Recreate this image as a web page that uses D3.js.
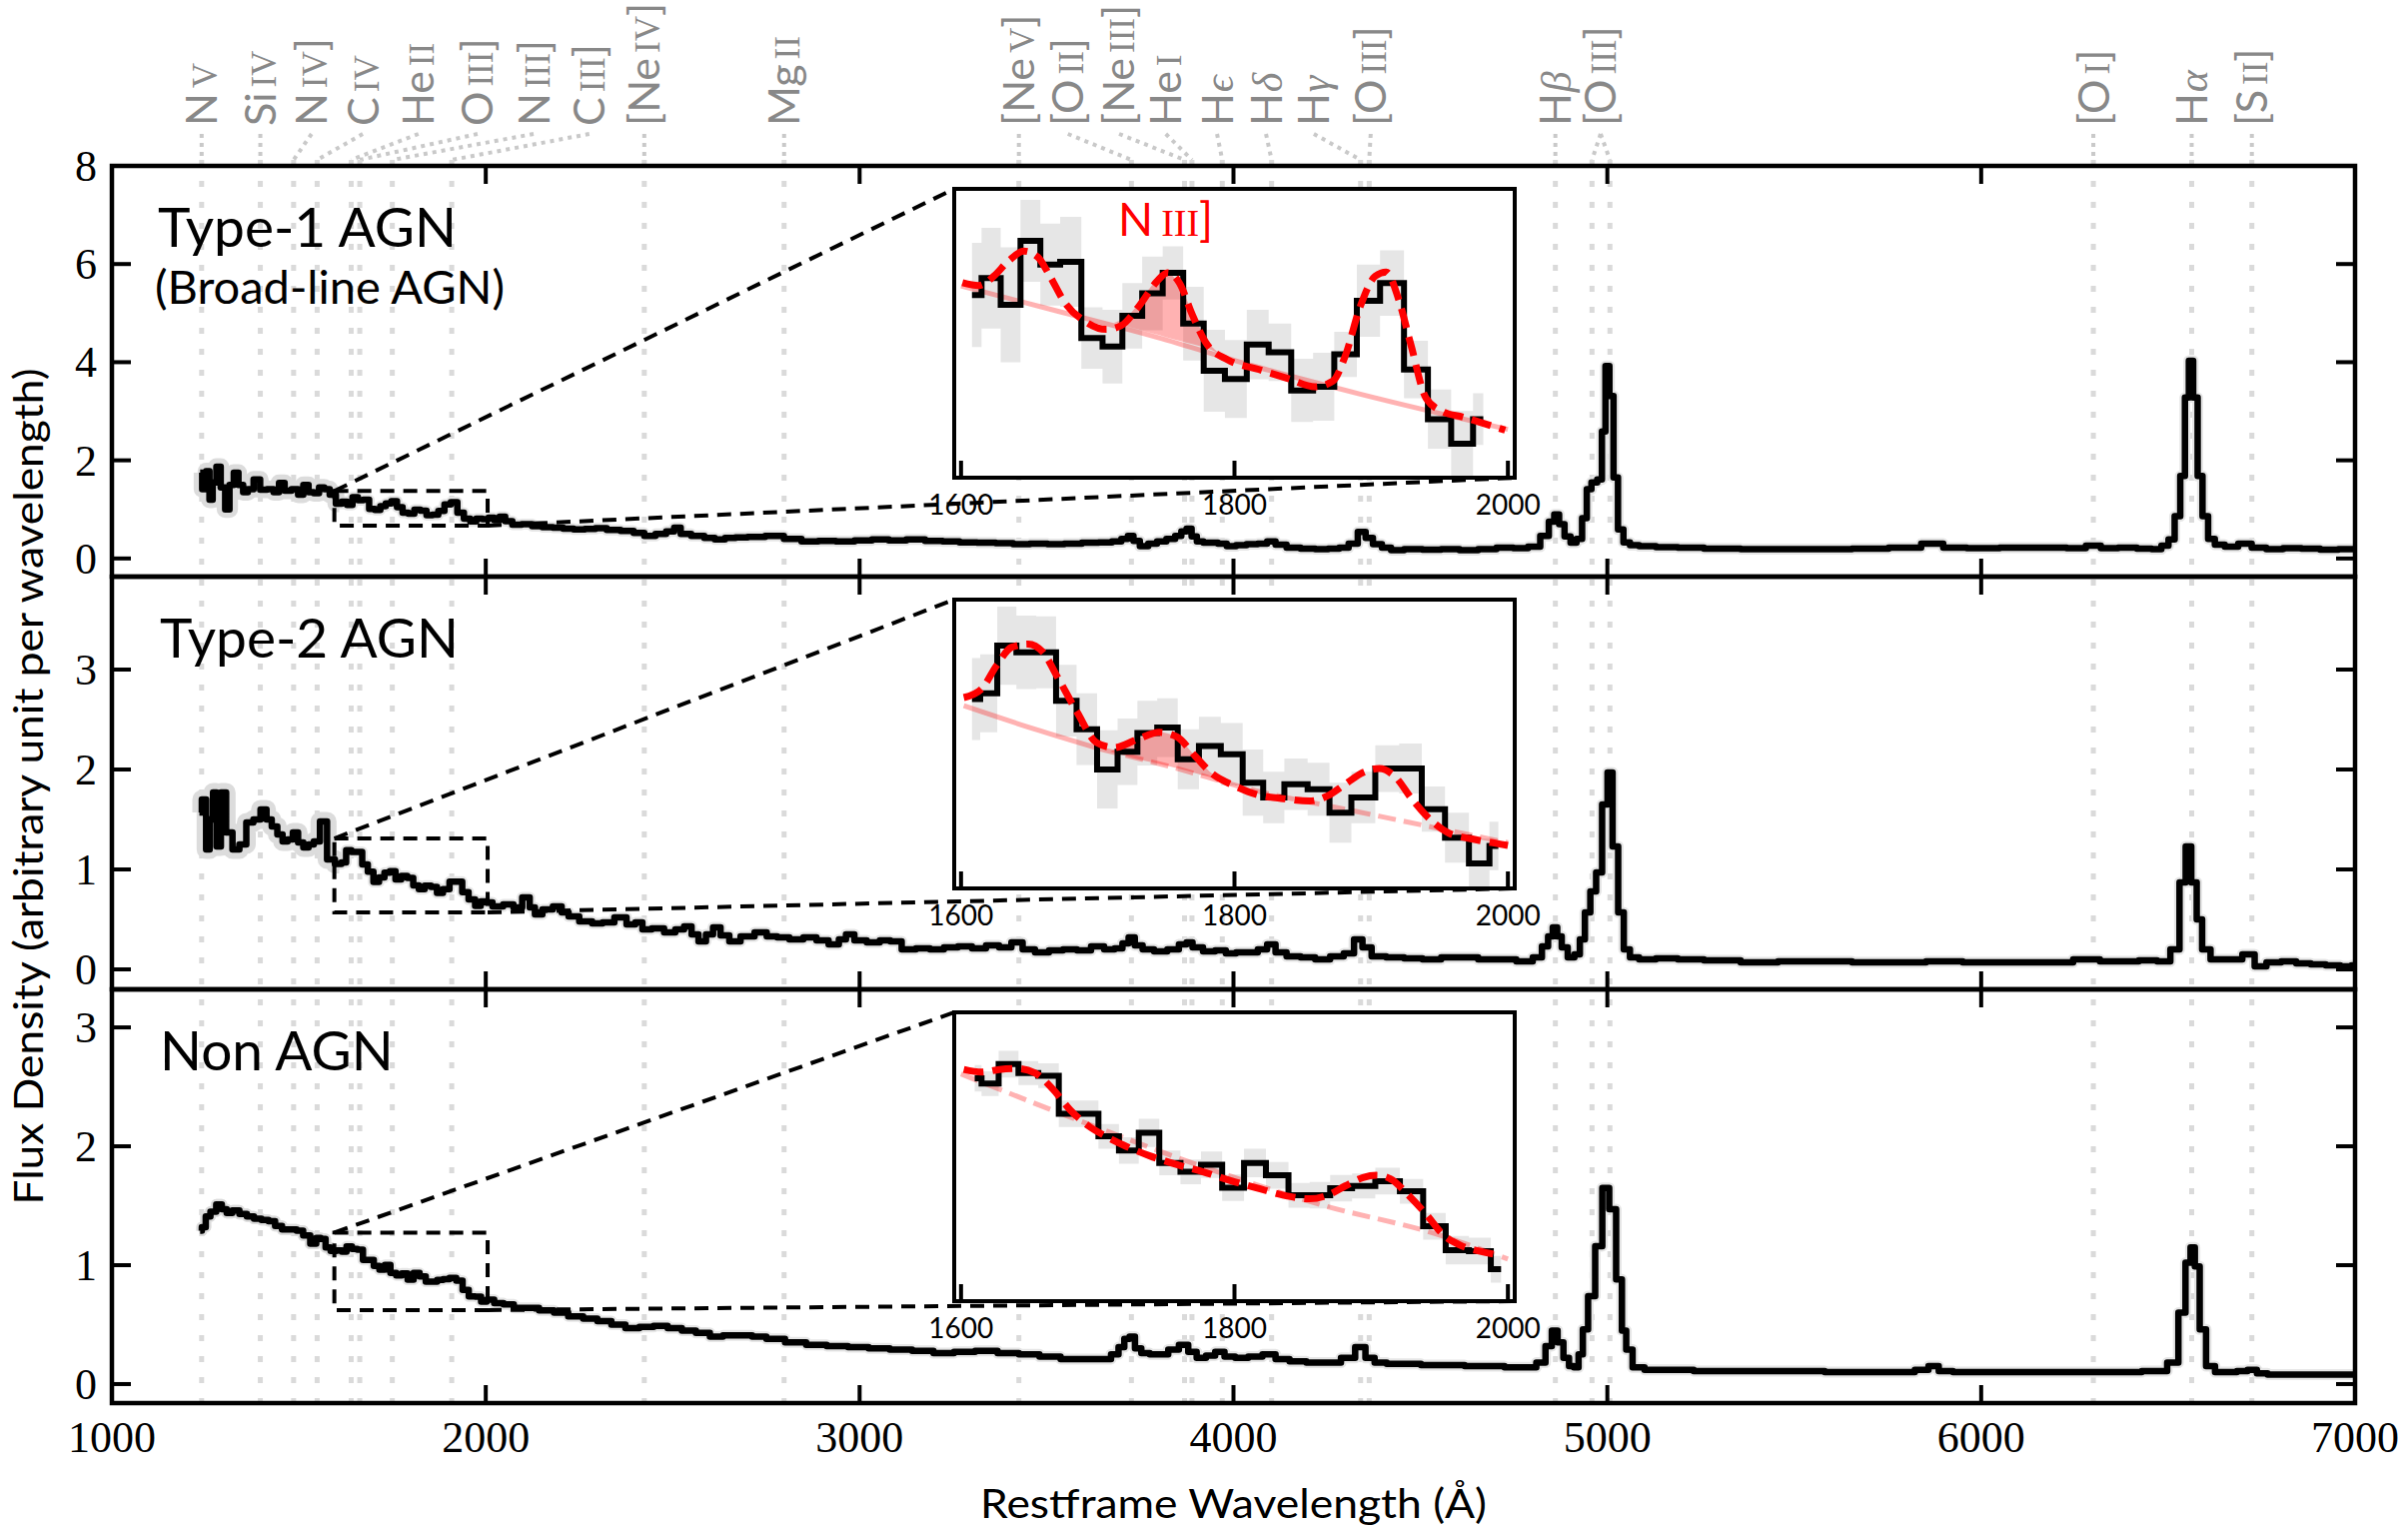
<!DOCTYPE html>
<html>
<head>
<meta charset="utf-8">
<script src="https://cdn.jsdelivr.net/npm/d3@7"></script>
<style>
  body { margin: 0; background: #fff; }
</style>
</head>
<body>
<svg id="fig" width="2410" height="1535"></svg>
<script>
// ---- emission lines marked along the top ----
const linePre  = ["N", "Si", "N", "C", "He", "O", "N", "C", "[Ne", "Mg", "[Ne", "[O", "[Ne", "He", "H", "H", "H", "[O", "H", "[O", "[O", "H", "[S"];
const lineIon  = ["V", "IV", "IV", "IV", "II", "III", "III", "III", "IV", "II", "V", "II", "III", "I", "ϵ", "δ", "γ", "III", "β", "III", "I", "α", "II"];
const linePost = ["", "", "]", "", "", "]", "]", "]", "]", "", "]", "]", "]", "", "", "", "", "]", "", "]", "]", "", "]"];
const lineWave = [[1240], [1397], [1486], [1549], [1640], [1663], [1750], [1909], [2424], [2798], [3426], [3727], [3869], [3889], [3970], [4102], [4340], [4363], [4861], [4959, 5007], [6300], [6563], [6724]];
const labelWave = [1240, 1397, 1534, 1671, 1820, 1978, 2128, 2277, 2424, 2798, 3426, 3557, 3694, 3819, 3956, 4087, 4215, 4367, 4861, 4982, 6300, 6563, 6724];

const xTicks = [1000, 2000, 3000, 4000, 5000, 6000, 7000];
const insetTicks = [1600, 1800, 2000];
const panelNames = ["Type-1 AGN", "Type-2 AGN", "Non AGN"];

// ---- Type-1 AGN spectrum ----
const t1BlueLam  = [1236, 1247, 1257, 1265, 1274, 1285, 1297, 1309, 1320, 1332, 1345, 1357, 1370, 1388, 1405, 1425, 1440, 1454, 1470, 1491, 1505, 1519, 1533, 1547, 1561, 1575, 1590];
const t1BlueFlux = [1.75, 1.41, 1.78, 1.20, 1.55, 1.87, 1.45, 1.00, 1.50, 1.75, 1.50, 1.35, 1.41, 1.61, 1.40, 1.41, 1.35, 1.54, 1.38, 1.41, 1.30, 1.50, 1.35, 1.33, 1.45, 1.41, 1.30];
const t1MidLam  = [1608, 1622, 1636, 1651, 1665, 1680, 1696, 1711, 1725, 1740, 1755, 1770, 1785, 1801, 1817, 1833, 1850, 1865, 1881, 1898, 1915, 1933, 1950, 1967, 1982];
const t1MidFlux = [1.116, 1.157, 1.092, 1.248, 1.190, 1.197, 1.011, 0.990, 1.065, 1.120, 1.170, 1.046, 0.931, 0.911, 0.995, 0.976, 0.883, 0.892, 0.971, 1.102, 1.145, 0.934, 0.813, 0.753, 0.813];
const t1MidErr  = [0.127, 0.123, 0.14, 0.10, 0.10, 0.11, 0.075, 0.09, 0.08, 0.09, 0.065, 0.09, 0.10, 0.095, 0.085, 0.07, 0.077, 0.083, 0.055, 0.088, 0.08, 0.07, 0.072, 0.08, 0.063];
const t1RedLam  = [2000, 2015, 2030, 2044, 2060, 2082, 2110, 2138, 2165, 2194, 2220, 2250, 2280, 2307, 2340, 2381, 2410, 2438, 2470, 2495, 2513, 2530, 2569, 2600, 2625, 2655, 2681, 2720, 2775, 2820, 2869, 2910, 2963, 3010, 3056, 3100, 3150, 3200, 3244, 3290, 3338, 3390, 3431, 3480, 3525, 3570, 3619, 3660, 3690, 3710, 3725, 3740, 3759, 3785, 3806, 3835, 3853, 3868, 3881, 3895, 3909, 3930, 3947, 3970, 3994, 4020, 4050, 4080, 4100, 4125, 4159, 4200, 4237, 4270, 4296, 4320, 4345, 4362, 4384, 4410, 4433, 4480, 4531, 4580, 4629, 4680, 4727, 4770, 4806, 4835, 4852, 4864, 4878, 4893, 4910, 4925, 4940, 4950, 4965, 4981, 4990, 5000, 5011, 5022, 5035, 5051, 5070, 5100, 5160, 5217, 5300, 5413, 5500, 5609, 5700, 5805, 5874, 5923, 6000, 6099, 6197, 6260, 6300, 6340, 6393, 6440, 6472, 6492, 6510, 6525, 6540, 6550, 6561, 6573, 6585, 6599, 6615, 6635, 6668, 6707, 6740, 6785, 6830, 6883, 6930, 6981, 7000];
const t1RedFlux = [0.80, 0.83, 0.78, 0.85, 0.76, 0.69, 0.70, 0.66, 0.64, 0.63, 0.61, 0.59, 0.60, 0.62, 0.58, 0.56, 0.52, 0.46, 0.50, 0.55, 0.63, 0.50, 0.46, 0.42, 0.39, 0.42, 0.43, 0.44, 0.46, 0.40, 0.35, 0.36, 0.35, 0.37, 0.39, 0.37, 0.39, 0.36, 0.35, 0.33, 0.32, 0.31, 0.29, 0.30, 0.29, 0.30, 0.32, 0.33, 0.35, 0.40, 0.46, 0.36, 0.25, 0.30, 0.35, 0.40, 0.46, 0.55, 0.61, 0.45, 0.35, 0.32, 0.32, 0.30, 0.25, 0.27, 0.29, 0.30, 0.35, 0.28, 0.22, 0.20, 0.19, 0.20, 0.22, 0.30, 0.54, 0.42, 0.29, 0.22, 0.17, 0.19, 0.18, 0.19, 0.17, 0.19, 0.22, 0.21, 0.24, 0.46, 0.75, 0.90, 0.70, 0.45, 0.32, 0.40, 0.82, 1.41, 1.55, 1.61, 2.59, 3.92, 3.31, 1.65, 0.59, 0.33, 0.27, 0.25, 0.23, 0.22, 0.20, 0.19, 0.19, 0.19, 0.20, 0.22, 0.30, 0.22, 0.21, 0.22, 0.22, 0.21, 0.26, 0.21, 0.22, 0.20, 0.19, 0.26, 0.39, 0.86, 1.68, 3.28, 4.03, 3.28, 1.68, 0.86, 0.40, 0.28, 0.24, 0.30, 0.22, 0.19, 0.21, 0.20, 0.18, 0.19, 0.19];
const t1ModelLam  = [1601, 1613, 1624, 1635, 1646, 1656, 1665, 1676, 1691, 1706, 1717, 1730, 1743, 1751, 1760, 1769, 1780, 1795, 1818, 1840, 1859, 1872, 1881, 1892, 1903, 1911, 1920, 1929, 1940, 1952, 1967, 1981, 1998];
const t1ModelFlux = [1.146, 1.139, 1.162, 1.200, 1.223, 1.209, 1.162, 1.097, 1.051, 1.032, 1.041, 1.088, 1.148, 1.170, 1.144, 1.069, 0.995, 0.958, 0.934, 0.911, 0.892, 0.906, 0.967, 1.088, 1.162, 1.172, 1.106, 0.995, 0.865, 0.832, 0.818, 0.804, 0.786];
const t1ContLam  = [1600, 1669, 1743, 1818, 1892, 2000];
const t1ContFlux = [1.138, 1.078, 1.013, 0.939, 0.874, 0.788];
const t1FillLam  = [1712, 1725, 1735, 1745, 1751, 1760, 1769, 1780, 1795];
const t1FillTop  = [1.048, 1.075, 1.120, 1.157, 1.168, 1.140, 1.075, 1.005, 0.962];
const t1FillBase = [1.048, 1.036, 1.027, 1.018, 1.012, 1.004, 0.996, 0.986, 0.962];

// ---- Type-2 AGN spectrum ----
const t2BlueLam  = [1234, 1247, 1257, 1266, 1275, 1285, 1298, 1313, 1332, 1350, 1369, 1388, 1407, 1420, 1435, 1450, 1463, 1477, 1491, 1505, 1519, 1533, 1547, 1566, 1585];
const t2BlueFlux = [1.57, 1.70, 1.20, 1.50, 1.77, 1.23, 1.77, 1.37, 1.20, 1.25, 1.47, 1.50, 1.60, 1.50, 1.43, 1.35, 1.28, 1.30, 1.37, 1.27, 1.22, 1.25, 1.28, 1.48, 1.10];
const t2MidLam  = [1608, 1620, 1633, 1648, 1662, 1677, 1692, 1707, 1722, 1736, 1751, 1766, 1782, 1798, 1814, 1828, 1845, 1862, 1877, 1894, 1912, 1929, 1945, 1963, 1980, 1993];
const t2MidFlux = [1.055, 1.070, 1.192, 1.175, 1.175, 1.051, 0.978, 0.875, 0.920, 0.968, 0.982, 0.901, 0.935, 0.914, 0.841, 0.803, 0.837, 0.824, 0.764, 0.803, 0.877, 0.877, 0.773, 0.700, 0.634, 0.679];
const t2MidErr  = [0.105, 0.10, 0.10, 0.094, 0.092, 0.092, 0.092, 0.10, 0.085, 0.083, 0.075, 0.077, 0.075, 0.08, 0.085, 0.066, 0.066, 0.068, 0.077, 0.066, 0.06, 0.064, 0.058, 0.064, 0.064, 0.062];
const t2RedLam  = [2006, 2030, 2063, 2085, 2110, 2125, 2138, 2165, 2194, 2212, 2231, 2269, 2300, 2325, 2363, 2390, 2410, 2428, 2460, 2494, 2520, 2541, 2560, 2578, 2600, 2616, 2640, 2663, 2700, 2738, 2765, 2794, 2830, 2869, 2900, 2934, 2955, 2972, 3000, 3038, 3070, 3094, 3131, 3170, 3206, 3245, 3281, 3320, 3356, 3390, 3422, 3450, 3488, 3525, 3563, 3600, 3638, 3670, 3694, 3712, 3727, 3745, 3769, 3806, 3840, 3868, 3881, 3900, 3937, 3965, 3994, 4020, 4050, 4080, 4100, 4125, 4159, 4200, 4237, 4280, 4310, 4335, 4355, 4384, 4433, 4480, 4531, 4580, 4629, 4680, 4727, 4786, 4815, 4835, 4848, 4860, 4872, 4884, 4904, 4920, 4933, 4947, 4962, 4978, 4994, 5007, 5021, 5037, 5051, 5070, 5100, 5160, 5217, 5300, 5413, 5500, 5609, 5700, 5805, 5900, 6001, 6100, 6197, 6295, 6340, 6393, 6450, 6491, 6521, 6540, 6554, 6570, 6583, 6599, 6628, 6680, 6717, 6746, 6780, 6825, 6860, 6903, 6940, 6981, 7000];
const t2RedFlux = [0.67, 0.63, 0.65, 0.62, 0.72, 0.62, 0.55, 0.60, 0.63, 0.57, 0.53, 0.48, 0.46, 0.47, 0.52, 0.45, 0.47, 0.40, 0.41, 0.37, 0.40, 0.43, 0.35, 0.28, 0.35, 0.42, 0.34, 0.28, 0.33, 0.37, 0.33, 0.32, 0.30, 0.32, 0.29, 0.25, 0.30, 0.35, 0.29, 0.27, 0.29, 0.28, 0.20, 0.21, 0.20, 0.22, 0.23, 0.21, 0.24, 0.22, 0.27, 0.20, 0.17, 0.19, 0.20, 0.19, 0.23, 0.20, 0.21, 0.26, 0.32, 0.24, 0.20, 0.18, 0.20, 0.25, 0.27, 0.22, 0.18, 0.19, 0.16, 0.17, 0.17, 0.20, 0.25, 0.17, 0.13, 0.12, 0.10, 0.13, 0.16, 0.30, 0.22, 0.13, 0.12, 0.11, 0.10, 0.12, 0.12, 0.10, 0.10, 0.08, 0.12, 0.23, 0.33, 0.42, 0.33, 0.22, 0.12, 0.15, 0.30, 0.57, 0.78, 0.97, 1.65, 1.97, 1.23, 0.57, 0.20, 0.12, 0.10, 0.11, 0.10, 0.09, 0.07, 0.08, 0.08, 0.07, 0.07, 0.08, 0.07, 0.07, 0.07, 0.10, 0.08, 0.08, 0.09, 0.08, 0.20, 0.87, 1.23, 0.87, 0.50, 0.20, 0.10, 0.10, 0.15, 0.03, 0.07, 0.08, 0.06, 0.05, 0.04, 0.03, 0.04];
const t2ModelLam  = [1602, 1615, 1626, 1637, 1649, 1660, 1670, 1685, 1699, 1712, 1729, 1745, 1758, 1771, 1784, 1800, 1816, 1836, 1855, 1868, 1881, 1894, 1906, 1917, 1930, 1943, 1956, 1972, 1989, 2000];
const t2ModelFlux = [1.059, 1.081, 1.141, 1.188, 1.196, 1.175, 1.115, 1.021, 0.944, 0.931, 0.952, 0.970, 0.958, 0.910, 0.863, 0.833, 0.811, 0.800, 0.794, 0.807, 0.837, 0.867, 0.877, 0.858, 0.798, 0.747, 0.713, 0.698, 0.687, 0.680];
const t2ContLam  = [1602, 1654, 1702, 1751, 1816, 1881, 1946, 2000];
const t2ContFlux = [1.038, 0.978, 0.927, 0.884, 0.820, 0.773, 0.726, 0.687];
const t2FillLam  = [1709, 1720, 1730, 1745, 1758, 1771, 1784, 1796, 1803];
const t2FillTop  = [0.920, 0.940, 0.955, 0.970, 0.957, 0.910, 0.863, 0.840, 0.834];
const t2FillBase = [0.920, 0.910, 0.900, 0.889, 0.878, 0.866, 0.853, 0.841, 0.834];

// ---- Non AGN spectrum ----
const t3BlueLam  = [1236, 1245, 1257, 1270, 1288, 1300, 1314, 1330, 1352, 1370, 1390, 1410, 1428, 1445, 1465, 1485, 1503, 1520, 1541, 1552, 1565, 1578, 1592];
const t3BlueFlux = [1.29, 1.32, 1.41, 1.45, 1.51, 1.47, 1.44, 1.46, 1.43, 1.41, 1.39, 1.38, 1.37, 1.33, 1.30, 1.30, 1.29, 1.25, 1.18, 1.23, 1.22, 1.15, 1.12];
const t3MidLam  = [1610, 1620, 1635, 1649, 1664, 1679, 1693, 1708, 1723, 1737, 1753, 1768, 1783, 1799, 1815, 1831, 1848, 1862, 1878, 1894, 1912, 1930, 1946, 1963, 1980, 1995];
const t3MidFlux = [1.125, 1.113, 1.157, 1.137, 1.131, 1.045, 1.045, 0.994, 0.962, 1.002, 0.934, 0.914, 0.930, 0.878, 0.934, 0.906, 0.861, 0.861, 0.877, 0.882, 0.893, 0.870, 0.791, 0.737, 0.735, 0.694];
const t3MidErr  = [0.03, 0.028, 0.03, 0.027, 0.028, 0.03, 0.03, 0.028, 0.03, 0.032, 0.028, 0.028, 0.03, 0.03, 0.032, 0.03, 0.028, 0.03, 0.03, 0.028, 0.03, 0.028, 0.03, 0.032, 0.03, 0.03];
const t3RedLam  = [2010, 2035, 2060, 2090, 2120, 2165, 2200, 2241, 2280, 2317, 2355, 2392, 2430, 2468, 2505, 2544, 2580, 2619, 2650, 2695, 2730, 2771, 2830, 2884, 2940, 2998, 3050, 3111, 3170, 3225, 3280, 3338, 3400, 3452, 3510, 3565, 3620, 3660, 3685, 3700, 3716, 3728, 3745, 3762, 3790, 3811, 3840, 3868, 3890, 3913, 3940, 3962, 3990, 4019, 4060, 4095, 4130, 4170, 4220, 4265, 4310, 4341, 4365, 4390, 4430, 4473, 4530, 4587, 4650, 4700, 4750, 4795, 4825, 4844, 4859, 4875, 4890, 4905, 4916, 4930, 4939, 4958, 4977, 4996, 5014, 5033, 5045, 5056, 5079, 5120, 5192, 5270, 5344, 5440, 5533, 5630, 5722, 5800, 5845, 5873, 5900, 5949, 6020, 6100, 6200, 6289, 6380, 6479, 6516, 6539, 6554, 6566, 6577, 6592, 6611, 6640, 6668, 6700, 6725, 6750, 6782, 6850, 6933, 6990, 7000];
const t3RedFlux = [0.71, 0.68, 0.67, 0.64, 0.64, 0.62, 0.60, 0.57, 0.55, 0.53, 0.50, 0.47, 0.48, 0.49, 0.47, 0.45, 0.43, 0.40, 0.41, 0.41, 0.40, 0.38, 0.35, 0.33, 0.32, 0.31, 0.30, 0.29, 0.28, 0.26, 0.27, 0.28, 0.26, 0.25, 0.23, 0.21, 0.21, 0.21, 0.25, 0.31, 0.38, 0.40, 0.30, 0.26, 0.25, 0.25, 0.29, 0.33, 0.27, 0.22, 0.24, 0.27, 0.23, 0.22, 0.23, 0.25, 0.21, 0.19, 0.18, 0.18, 0.22, 0.31, 0.22, 0.18, 0.17, 0.17, 0.16, 0.16, 0.15, 0.15, 0.14, 0.14, 0.18, 0.32, 0.45, 0.35, 0.22, 0.15, 0.14, 0.25, 0.46, 0.74, 1.16, 1.65, 1.47, 0.88, 0.45, 0.29, 0.14, 0.12, 0.12, 0.11, 0.11, 0.11, 0.11, 0.10, 0.10, 0.10, 0.12, 0.15, 0.11, 0.10, 0.10, 0.10, 0.10, 0.10, 0.10, 0.11, 0.18, 0.60, 1.02, 1.15, 0.99, 0.46, 0.15, 0.10, 0.10, 0.11, 0.12, 0.09, 0.08, 0.08, 0.08, 0.08, 0.08];
const t3ModelLam  = [1602, 1615, 1628, 1641, 1654, 1667, 1680, 1693, 1706, 1719, 1738, 1758, 1777, 1797, 1816, 1836, 1855, 1868, 1881, 1894, 1904, 1914, 1927, 1940, 1953, 1966, 1979, 1995];
const t3ModelFlux = [1.145, 1.139, 1.145, 1.147, 1.137, 1.101, 1.053, 1.018, 0.994, 0.974, 0.950, 0.930, 0.914, 0.894, 0.878, 0.861, 0.853, 0.861, 0.882, 0.901, 0.906, 0.898, 0.862, 0.819, 0.771, 0.747, 0.735, 0.725];
const t3ContLam  = [1600, 1686, 1784, 1865, 1946, 2000];
const t3ContFlux = [1.135, 1.030, 0.918, 0.838, 0.775, 0.717];

// ---- layout ----
const W = 2410, H = 1535;
const left = 112, right = 2357;
const sans = "Lato, 'Open Sans', 'DejaVu Sans', sans-serif";
const serif = "'Liberation Serif', 'DejaVu Serif', serif";

const panels = [
  { top: 166, bottom: 577, ylim: [-0.37, 8.0], yticks: [0, 2, 4, 6, 8], insetY: [0.67, 1.375], blueHalo: 17, contSolidTo: 2005,
    blueLam: t1BlueLam, blueFlux: t1BlueFlux, midLam: t1MidLam, midFlux: t1MidFlux, midErr: t1MidErr, redLam: t1RedLam, redFlux: t1RedFlux,
    modelLam: t1ModelLam, modelFlux: t1ModelFlux, contLam: t1ContLam, contFlux: t1ContFlux,
    fillLam: t1FillLam, fillTop: t1FillTop, fillBase: t1FillBase },
  { top: 577, bottom: 990, ylim: [-0.2, 3.93], yticks: [0, 1, 2, 3], insetY: [0.57, 1.31], blueHalo: 19, contSolidTo: 1702,
    blueLam: t2BlueLam, blueFlux: t2BlueFlux, midLam: t2MidLam, midFlux: t2MidFlux, midErr: t2MidErr, redLam: t2RedLam, redFlux: t2RedFlux,
    modelLam: t2ModelLam, modelFlux: t2ModelFlux, contLam: t2ContLam, contFlux: t2ContFlux,
    fillLam: t2FillLam, fillTop: t2FillTop, fillBase: t2FillBase },
  { top: 990, bottom: 1404, ylim: [-0.16, 3.32], yticks: [0, 1, 2, 3], insetY: [0.622, 1.274], blueHalo: 11, contSolidTo: 1595,
    blueLam: t3BlueLam, blueFlux: t3BlueFlux, midLam: t3MidLam, midFlux: t3MidFlux, midErr: t3MidErr, redLam: t3RedLam, redFlux: t3RedFlux,
    modelLam: t3ModelLam, modelFlux: t3ModelFlux, contLam: t3ContLam, contFlux: t3ContFlux,
    fillLam: null }
];

const svg = d3.select('#fig');
svg.append('rect').attr('width', W).attr('height', H).attr('fill', '#fff');
const defs = svg.append('defs');

const x = d3.scaleLinear().domain([1000, 7000]).range([left, right]);
const xIn = d3.scaleLinear().domain([1595, 2005]).range([955, 1516]);

const zip = (a, b) => a.map((v, i) => [v, b[i]]);

// ---- dotted line markers (behind everything) ----
const marks = svg.append('g');
lineWave.forEach((ws, i) => {
  ws.forEach(w => {
    marks.append('line')
      .attr('x1', x(labelWave[i])).attr('y1', 134)
      .attr('x2', x(w)).attr('y2', 160)
      .attr('stroke', '#c9c9c9').attr('stroke-width', 4).attr('stroke-dasharray', '4,5');
    marks.append('line')
      .attr('x1', x(w)).attr('x2', x(w)).attr('y1', 160).attr('y2', 1404)
      .attr('stroke', '#dadada').attr('stroke-width', 5).attr('stroke-dasharray', '6,15');
  });
  const t = marks.append('text')
    .attr('transform', `translate(${x(labelWave[i])},126) rotate(-90)`)
    .attr('dy', '0.36em')
    .attr('fill', '#888')
    .attr('font-size', 43)
    .attr('font-family', sans);
  t.append('tspan').text(linePre[i]);
  const greek = /[α-ωϵ]/.test(lineIon[i]);
  t.append('tspan')
    .attr('font-family', serif)
    .attr('font-size', greek ? 42 : 35)
    .attr('font-style', greek ? 'italic' : 'normal')
    .attr('dx', greek ? 1 : 5)
    .text(lineIon[i]);
  if (linePost[i]) t.append('tspan').text(linePost[i]);
});

// ---- panels ----
panels.forEach((p, pi) => {
  const y = d3.scaleLinear().domain(p.ylim).range([p.bottom, p.top]);
  const g = svg.append('g');

  const clipId = 'clip' + pi;
  defs.append('clipPath').attr('id', clipId)
    .append('rect').attr('x', left).attr('y', p.top).attr('width', right - left).attr('height', p.bottom - p.top);

  const lam = p.blueLam.concat(p.midLam, p.redLam);
  const flux = p.blueFlux.concat(p.midFlux, p.redFlux);
  const pts = zip(lam, flux);
  const stepLine = d3.line().curve(d3.curveStep).x(d => x(d[0])).y(d => y(d[1]));

  const sg = g.append('g').attr('clip-path', `url(#${clipId})`);
  sg.append('path').attr('d', stepLine(pts))
    .attr('fill', 'none').attr('stroke', '#e6e6e6').attr('stroke-width', 11).attr('stroke-linejoin', 'round');
  sg.append('path').attr('d', stepLine(zip(p.blueLam, p.blueFlux).concat([[p.midLam[0], p.midFlux[0]]])))
    .attr('fill', 'none').attr('stroke', '#dcdcdc').attr('stroke-width', p.blueHalo).attr('stroke-linejoin', 'round');
  sg.append('path').attr('d', stepLine(pts))
    .attr('fill', 'none').attr('stroke', '#000').attr('stroke-width', 6.5).attr('stroke-linejoin', 'round');

  // panel name
  if (pi === 0) {
    g.append('text').attr('x', 158).attr('y', p.top + 81).attr('font-family', sans).attr('font-size', 55).text(panelNames[pi]);
    g.append('text').attr('x', 155).attr('y', p.top + 138).attr('font-family', sans).attr('font-size', 47).text('(Broad-line AGN)');
  } else {
    g.append('text').attr('x', 160).attr('y', p.top + 81).attr('font-family', sans).attr('font-size', 55).text(panelNames[pi]);
  }

  // zoom rectangle + connectors
  const rx0 = x(1595), rx1 = x(2005), ry0 = y(p.insetY[1]), ry1 = y(p.insetY[0]);
  const ix0 = 955, ix1 = 1516, iy0 = p.top + 23, iy1 = p.top + 312;
  const dash = { stroke: '#000', 'stroke-width': 4, 'stroke-dasharray': '14,9', fill: 'none' };
  const rct = g.append('rect').attr('x', rx0).attr('y', ry0).attr('width', rx1 - rx0).attr('height', ry1 - ry0);
  const c1 = g.append('line').attr('x1', rx0).attr('y1', ry0).attr('x2', ix0).attr('y2', iy0);
  const c2 = g.append('line').attr('x1', rx1).attr('y1', ry1).attr('x2', ix1).attr('y2', iy1);
  [rct, c1, c2].forEach(s => Object.entries(dash).forEach(([k, v]) => s.attr(k, v)));

  // spines and ticks
  g.append('rect').attr('x', left).attr('y', p.top).attr('width', right - left).attr('height', p.bottom - p.top)
    .attr('fill', 'none').attr('stroke', '#000').attr('stroke-width', 4.5);
  xTicks.forEach(t => {
    g.append('line').attr('x1', x(t)).attr('x2', x(t)).attr('y1', p.bottom).attr('y2', p.bottom - 18).attr('stroke', '#000').attr('stroke-width', 4);
    g.append('line').attr('x1', x(t)).attr('x2', x(t)).attr('y1', p.top).attr('y2', p.top + 18).attr('stroke', '#000').attr('stroke-width', 4);
  });
  p.yticks.forEach(t => {
    g.append('line').attr('x1', left).attr('x2', left + 19).attr('y1', y(t)).attr('y2', y(t)).attr('stroke', '#000').attr('stroke-width', 4);
    g.append('line').attr('x1', right).attr('x2', right - 19).attr('y1', y(t)).attr('y2', y(t)).attr('stroke', '#000').attr('stroke-width', 4);
    g.append('text').attr('x', 97).attr('y', y(t)).attr('dy', '0.34em').attr('text-anchor', 'end')
      .attr('font-family', serif).attr('font-size', 44).text(t);
  });

  // ---- inset ----
  const yIn = d3.scaleLinear().domain(p.insetY).range([iy1, iy0]);
  const ig = svg.append('g');
  const iclip = 'iclip' + pi;
  defs.append('clipPath').attr('id', iclip)
    .append('rect').attr('x', ix0).attr('y', iy0).attr('width', ix1 - ix0).attr('height', iy1 - iy0);
  ig.append('rect').attr('x', ix0).attr('y', iy0).attr('width', ix1 - ix0).attr('height', iy1 - iy0).attr('fill', '#fff');
  const ic = ig.append('g').attr('clip-path', `url(#${iclip})`);

  const band = d3.area().curve(d3.curveStep)
    .x((d, i) => xIn(p.midLam[i]))
    .y0((d, i) => yIn(p.midFlux[i] - p.midErr[i]))
    .y1((d, i) => yIn(p.midFlux[i] + p.midErr[i]));
  ic.append('path').attr('d', band(p.midLam)).attr('fill', '#e6e6e6');

  const smooth = d3.line().curve(d3.curveMonotoneX).x(d => xIn(d[0])).y(d => yIn(d[1]));
  const cont = zip(p.contLam, p.contFlux);
  const contSolid = cont.filter(d => d[0] <= p.contSolidTo);
  const contDash = cont.filter(d => d[0] >= p.contSolidTo || d[0] === contSolid[contSolid.length - 1][0]);
  if (contSolid.length > 1)
    ic.append('path').attr('d', smooth(contSolid)).attr('fill', 'none').attr('stroke', '#ff0000')
      .attr('stroke-opacity', 0.3).attr('stroke-width', 5);
  if (contDash.length > 1)
    ic.append('path').attr('d', smooth(contDash)).attr('fill', 'none').attr('stroke', '#ff0000')
      .attr('stroke-opacity', 0.3).attr('stroke-width', 5).attr('stroke-dasharray', '18,8');

  if (p.fillLam) {
    const area = d3.area().curve(d3.curveMonotoneX)
      .x((d, i) => xIn(p.fillLam[i]))
      .y0((d, i) => yIn(p.fillBase[i]))
      .y1((d, i) => yIn(p.fillTop[i]));
    ic.append('path').attr('d', area(p.fillLam)).attr('fill', '#ff0000').attr('fill-opacity', 0.3);
  }

  ic.append('path').attr('d', d3.line().curve(d3.curveStep).x(d => xIn(d[0])).y(d => yIn(d[1]))(zip(p.midLam, p.midFlux)))
    .attr('fill', 'none').attr('stroke', '#000').attr('stroke-width', 6);

  ic.append('path').attr('d', smooth(zip(p.modelLam, p.modelFlux)))
    .attr('fill', 'none').attr('stroke', '#ff0000').attr('stroke-width', 7).attr('stroke-dasharray', '20,9');

  ig.append('rect').attr('x', ix0).attr('y', iy0).attr('width', ix1 - ix0).attr('height', iy1 - iy0)
    .attr('fill', 'none').attr('stroke', '#000').attr('stroke-width', 4);
  insetTicks.forEach(t => {
    ig.append('line').attr('x1', xIn(t)).attr('x2', xIn(t)).attr('y1', iy1).attr('y2', iy1 - 17).attr('stroke', '#000').attr('stroke-width', 4);
    ig.append('text').attr('x', xIn(t)).attr('y', iy1 + 37).attr('text-anchor', 'middle')
      .attr('font-family', sans).attr('font-size', 28).text(t);
  });

  if (pi === 0) {
    const nt = ig.append('text').attr('x', 1119).attr('y', p.top + 70).attr('fill', '#ff0000')
      .attr('font-family', sans).attr('font-size', 46);
    nt.append('tspan').text('N');
    nt.append('tspan').attr('font-family', serif).attr('font-size', 38).attr('dx', 8).text('III');
    nt.append('tspan').text(']');
  }
});

// bottom x tick labels
xTicks.forEach(t => {
  svg.append('text').attr('x', x(t)).attr('y', 1453).attr('text-anchor', 'middle')
    .attr('font-family', serif).attr('font-size', 44).text(t);
});

// axis labels
svg.append('text').attr('x', (left + right) / 2).attr('y', 1519).attr('text-anchor', 'middle')
  .attr('font-family', sans).attr('font-size', 40)
  .attr('textLength', 507).attr('lengthAdjust', 'spacingAndGlyphs')
  .text('Restframe Wavelength (Å)');
svg.append('text').attr('transform', 'translate(43,787) rotate(-90)').attr('text-anchor', 'middle')
  .attr('font-family', sans).attr('font-size', 40)
  .attr('textLength', 837).attr('lengthAdjust', 'spacingAndGlyphs')
  .text('Flux Density (arbitrary unit per wavelength)');
</script>
</body>
</html>
